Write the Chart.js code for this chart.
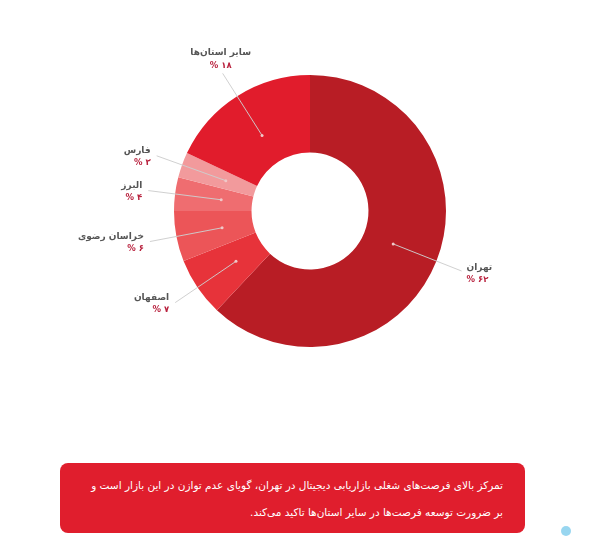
<!DOCTYPE html>
<html lang="fa">
<head>
<meta charset="utf-8">
<script src="https://cdn.jsdelivr.net/npm/chart.js@4.4.1/dist/chart.umd.min.js"></script>
<style>
  html, body { margin: 0; padding: 0; background: #fff; }
  body { width: 591px; height: 557px; position: relative; overflow: hidden; font-family: "DejaVu Sans", sans-serif; }
  #chartBox { position: absolute; left: 0; top: 0; width: 591px; height: 420px; }
  .note {
    position: absolute; left: 60px; top: 463px; width: 465px; height: 70px;
    background: #e01e2d; border-radius: 8px; color: #fff;
    box-sizing: border-box; padding: 9px 22px 0 10px;
    font-size: 10.5px; line-height: 27px; text-align: right; direction: rtl;
  }
  .mark { position: absolute; left: 561px; top: 526px; width: 10px; height: 10px; border-radius: 50%; background: #6cc4ea; opacity: .7; }
</style>
</head>
<body>
<div id="chartBox"><canvas id="shareChart"></canvas></div>
<div class="note">تمرکز بالای فرصت‌های شغلی بازاریابی دیجیتال در تهران، گویای عدم توازن در این بازار است و<br>بر ضرورت توسعه فرصت‌ها در سایر استان‌ها تاکید می‌کند.</div>
<div class="mark"></div>

<script>
/* --- data --- */
const provinces = ['تهران', 'اصفهان', 'خراسان رضوی', 'البرز', 'فارس', 'سایر استان‌ها'];
const shares = [62, 7, 6, 4, 3, 18];
const sliceColors = ['#b81d25', '#e7333a', '#ec5558', '#ef6d70', '#f29a9c', '#e11c2c'];

// persian digits for the labels
const faDigits = '۰۱۲۳۴۵۶۷۸۹';
const toFa = n => String(n).replace(/\d/g, d => faDigits[d]);

/* --- leader lines + labels --- */
const calloutPlugin = {
  id: 'callouts',
  afterDatasetsDraw(chart) {
    const ctx = chart.ctx;
    const meta = chart.getDatasetMeta(0);
    meta.data.forEach((arc, i) => {
      const p = arc.getProps(['x', 'y', 'startAngle', 'endAngle', 'innerRadius', 'outerRadius'], true);
      const mid = (p.startAngle + p.endAngle) / 2;
      const cos = Math.cos(mid), sin = Math.sin(mid);
      const r0 = p.innerRadius + 0.4 * (p.outerRadius - p.innerRadius);
      const r1 = p.outerRadius + 27;
      const ax = p.x + r0 * cos, ay = p.y + r0 * sin;
      const ex = p.x + r1 * cos, ey = p.y + r1 * sin;

      ctx.save();
      ctx.strokeStyle = 'rgba(205,205,205,0.95)';
      ctx.lineWidth = 1;
      ctx.beginPath();
      ctx.moveTo(ax, ay);
      ctx.lineTo(ex, ey);
      ctx.stroke();
      ctx.fillStyle = 'rgba(240,200,200,1)';
      ctx.beginPath();
      ctx.arc(ax, ay, 1.5, 0, Math.PI * 2);
      ctx.fill();

      let tx, nameY, pctY;
      if (Math.abs(cos) < 0.6) {
        ctx.textAlign = 'center';
        tx = ex - 2; nameY = ey - 21; pctY = ey - 8;
      } else if (cos < 0) {
        ctx.textAlign = 'right';
        tx = ex - 6; nameY = ey - 5; pctY = ey + 7;
      } else {
        ctx.textAlign = 'left';
        tx = ex + 5; nameY = ey - 3; pctY = ey + 9;
      }
      ctx.textBaseline = 'middle';
      ctx.font = 'bold 9px "DejaVu Sans"';
      ctx.fillStyle = '#555';
      ctx.direction = 'rtl';
      ctx.fillText(provinces[i], tx, nameY);
      ctx.direction = 'ltr';
      ctx.font = 'bold 8.5px "DejaVu Sans"';
      ctx.fillStyle = '#b9233f';
      ctx.fillText('% ' + toFa(shares[i]), tx, pctY);
      ctx.restore();
    });
  }
};

new Chart(document.getElementById('shareChart').getContext('2d'), {
  type: 'doughnut',
  data: {
    labels: provinces,
    datasets: [{
      data: shares,
      backgroundColor: sliceColors,
      borderWidth: 0
    }]
  },
  options: {
    responsive: true,
    maintainAspectRatio: false,
    animation: false,
    cutout: '43%',
    layout: { padding: { left: 174, right: 145, top: 75, bottom: 73 } },
    plugins: {
      legend: { display: false },
      tooltip: { enabled: false }
    }
  },
  plugins: [calloutPlugin]
});
</script>
</body>
</html>
